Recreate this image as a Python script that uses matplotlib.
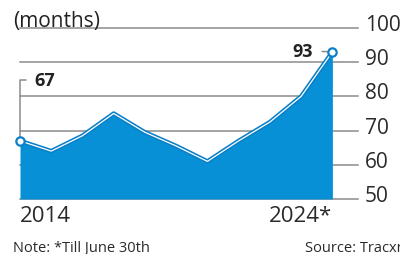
import matplotlib
matplotlib.use("Agg")
import matplotlib.pyplot as plt
from matplotlib.transforms import ScaledTranslation

# data
years = [2014, 2015, 2016, 2017, 2018, 2019, 2020, 2021, 2022, 2023, 2024]
months = [67, 64, 68.5, 75, 69.5, 65.5, 61, 67, 72.5, 80, 93]
y_ticks = [50, 60, 70, 80, 90, 100]
x_ticks = [2014, 2024]
x_labels = ["2014", "2024*"]

plt.rcParams['font.family'] = ['Open Sans', 'DejaVu Sans']

fill_blue = '#0790d6'
line_blue = '#0a80c8'
grey = '#8c8c8c'
text_col = '#222222'

fig = plt.figure(figsize=(4, 2.55), dpi=100)
ax = fig.add_axes([0.05, 0.2157, 0.845, 0.6706])

# area + double line
ax.fill_between(years, months, 50, color=fill_blue, lw=0, zorder=2)
ax.plot(years, months, color=line_blue, lw=3.2, zorder=3, clip_on=False)
ax.plot(years, months, color='white', lw=0.9, zorder=4, clip_on=False)
ax.plot([years[0], years[-1]], [months[0], months[-1]], 'o', ms=6, mfc='white',
        mec=line_blue, mew=1.6, zorder=5, clip_on=False)

ax.set_xlim(2014, 2024.82)
ax.set_ylim(50, 100)

# grid
ax.set_axisbelow(True)
ax.grid(axis='y', color=grey, lw=1.1)
ax.grid(axis='x', visible=False)
for gl in ax.get_ygridlines():
    gl.set_clip_on(False)
for s in ax.spines.values():
    s.set_visible(False)

# y ticks on the right
ax.set_yticks(y_ticks)
ax.yaxis.tick_right()
ax.tick_params(axis='y', length=0, pad=5, labelsize=15, labelcolor='#2a2a2a')
for t in ax.yaxis.get_major_ticks():
    t.label2.set_va('baseline')
    t.label2.set_transform(t.label2.get_transform() + ScaledTranslation(0, -2 / 100, fig.dpi_scale_trans))

# x ticks
ax.set_xticks(x_ticks, x_labels)
ax.tick_params(axis='x', length=0, pad=4, labelsize=16, labelcolor='#2a2a2a')
xl = ax.get_xticklabels()
xl[0].set_ha('left')
xl[1].set_ha('right')

# end labels
ax.annotate('67', xy=(years[0], months[0]), xytext=(14, 61), textcoords='offset pixels',
            fontsize=13, fontweight='bold', color=text_col, ha='left', va='center',
            annotation_clip=False,
            arrowprops=dict(arrowstyle='-', color=grey, lw=1.1, relpos=(0, 0.5),
                            connectionstyle='angle,angleA=0,angleB=90,rad=0',
                            shrinkA=3.5, shrinkB=3))
ax.annotate('93', xy=(years[-1], months[-1]), xytext=(-20, 1), textcoords='offset pixels',
            fontsize=13, fontweight='bold', color=text_col, ha='right', va='center',
            annotation_clip=False,
            arrowprops=dict(arrowstyle='-', color=grey, lw=1.1, relpos=(1, 0.5),
                            shrinkA=5, shrinkB=2))

fig.text(13 / 400, 1 - 26.5 / 255, '(months)', fontsize=15, color=text_col, va='baseline')
fig.text(13 / 400, 1 - 252 / 255, 'Note: *Till June 30th', fontsize=10.5, color='#2a2a2a', va='baseline')
fig.text(305 / 400, 1 - 252 / 255, 'Source: Tracxn', fontsize=10.5, color='#2a2a2a', va='baseline')

fig.savefig('out.png', dpi=100)
